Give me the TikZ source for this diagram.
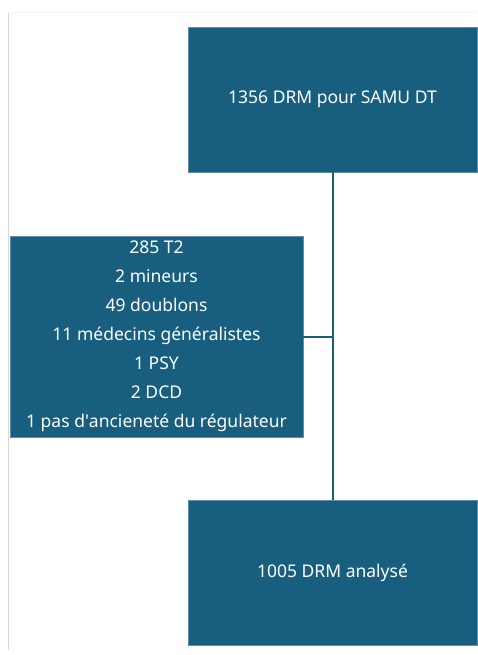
\documentclass[tikz,border=0pt]{standalone}
\usepackage{fontspec}
\setmainfont{Noto Sans}
\usepackage{xcolor}
\usetikzlibrary{calc,positioning}
\definecolor{drmblue}{RGB}{23,94,127}
\tikzset{
  drmbox/.style={fill=drmblue,draw=drmblue!70!white,line width=0.6pt,text=white,align=center,inner sep=0pt,
    font=\fontsize{17.5}{29}\selectfont},
  drmline/.style={draw=drmblue,line width=2pt}
}
\begin{document}
\begin{tikzpicture}[x=1pt,y=-1pt]
                        \useasboundingbox (0,0) rectangle (477,655);
                        
                        % Drawing page edge
                        \draw [line width=0.8pt,black!15] (8,650) -- (8,12);%
                        \draw [line width=0.6pt,black!4] (8,12) -- (477,12);%
                        
                        % Drawing box total
                        \node [drmbox,minimum width=289pt,minimum height=145pt] (total) at (332.5,99.5) {1356 DRM pour SAMU DT};%
                        
                        % Drawing box exclus
                        \node [drmbox,minimum width=293pt,minimum height=201pt] (exclus) at (156.5,336.5)
                          {285 T2\\2 mineurs\\49 doublons\\11 médecins généralistes\\1 PSY\\2 DCD\\1 pas d\textquotesingle ancieneté du régulateur};%
                        
                        % Drawing box analyse
                        \node [drmbox,minimum width=289pt,minimum height=145pt] (analyse) at (332.5,572.5) {1005 DRM analysé};%
                        
                        % Drawing segment total analyse
                        \draw [drmline] (total.south) -- (analyse.north);%
                        
                        % Drawing segment exclus branch
                        \draw [drmline] (exclus.east) -- (exclus.east -| total.south);%
\end{tikzpicture}
\end{document}
